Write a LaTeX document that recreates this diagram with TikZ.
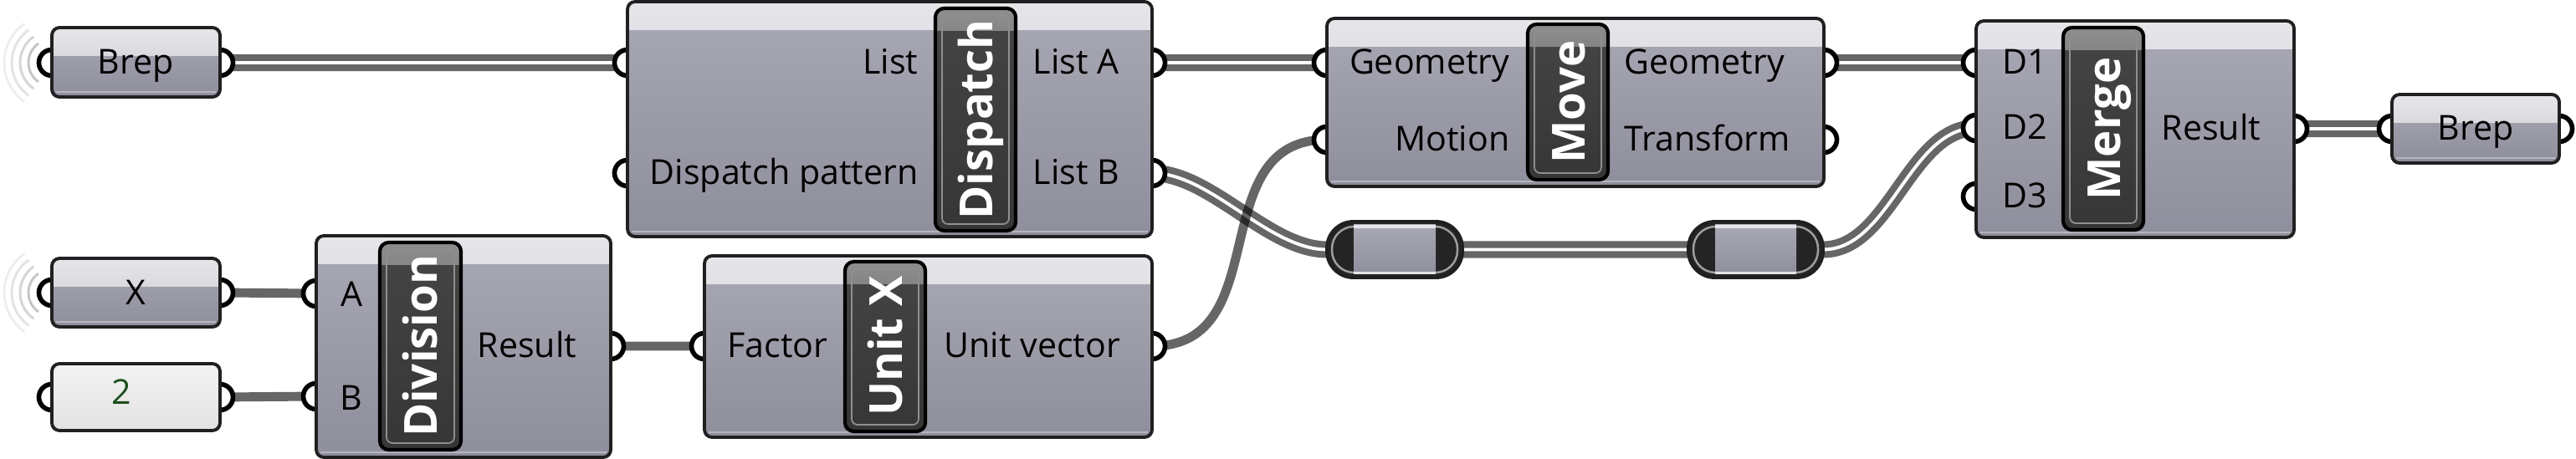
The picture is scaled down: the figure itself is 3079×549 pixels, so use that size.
\documentclass[tikz,border=0pt]{standalone}
\usepackage{fontspec}
\setmainfont{Open Sans}
\usetikzlibrary{fit}
\pgfdeclarelayer{wires}
\pgfdeclarelayer{ports}
\pgfsetlayers{wires,ports,main}
\definecolor{ghline}{HTML}{202020}
\definecolor{bodytop}{HTML}{A9A9B5}
\definecolor{bodybot}{HTML}{8E8E9C}
\definecolor{bandtop}{HTML}{E6E6EA}
\definecolor{bandbot}{HTML}{C6C6CE}
\definecolor{labtop}{HTML}{454545}
\definecolor{labbot}{HTML}{363636}
\definecolor{labhi}{HTML}{8E8E8E}
\definecolor{relaydark}{HTML}{242424}
\definecolor{paneltop}{HTML}{F2F2F2}
\definecolor{panelbot}{HTML}{E2E2E2}
\definecolor{numgreen}{HTML}{1D4F1D}
\tikzset{
  ghbox/.style={draw=ghline, line width=1.1pt, rounded corners=2.6pt, inner sep=0pt, outer sep=0pt,
    top color=bodytop, bottom color=bodybot,
    path picture={\fill[sharp corners, top color=bandtop, bottom color=bandbot]
      (path picture bounding box.north west) rectangle ([yshift=-0.33cm]path picture bounding box.north east);
      \draw[white, opacity=0.35, line width=0.6pt] ([shift={(0.05cm,0.06cm)}]path picture bounding box.south west) -- ([shift={(-0.05cm,0.06cm)}]path picture bounding box.south east);}},
  ghpanel/.style={draw=ghline, line width=1.1pt, rounded corners=2.6pt, inner sep=0pt, outer sep=0pt,
    top color=paneltop, bottom color=panelbot},
  labbox/.style={draw=black, line width=1.2pt, rounded corners=3pt, inner sep=0pt, outer sep=0pt,
    top color=labtop, bottom color=labbot,
    path picture={\fill[sharp corners, top color=labhi, bottom color=labtop]
      (path picture bounding box.north west) rectangle ([yshift=-0.26cm]path picture bounding box.north east);
      \draw[line width=0.5pt, white!40!labtop, rounded corners=2pt]
      ([shift={(0.08cm,-0.08cm)}]path picture bounding box.north west) rectangle ([shift={(-0.08cm,0.08cm)}]path picture bounding box.south east);}},
  relay/.style={draw=ghline, line width=1.1pt, rounded corners=9pt, inner sep=0pt, outer sep=0pt, fill=relaydark,
    path picture={
      \draw[line width=0.7pt, gray!75, rounded corners=7.5pt]
      ([shift={(0.06cm,0.06cm)}]path picture bounding box.south west) rectangle ([shift={(-0.06cm,-0.06cm)}]path picture bounding box.north east);
      \fill[sharp corners, top color=bodytop, bottom color=bodybot]
      ([xshift=0.32cm,yshift=0.04cm]path picture bounding box.south west) rectangle ([xshift=-0.32cm,yshift=-0.04cm]path picture bounding box.north east);
      \fill[sharp corners, bandtop] ([xshift=0.32cm,yshift=-0.04cm]path picture bounding box.north west) rectangle ([xshift=-0.32cm,yshift=-0.08cm]path picture bounding box.north east);
      \fill[sharp corners, white!75!bodybot] ([xshift=0.32cm,yshift=0.04cm]path picture bounding box.south west) rectangle ([xshift=-0.32cm,yshift=0.07cm]path picture bounding box.south east);}},
  port/.style={draw=black, fill=white, line width=1.6pt},
  listwire/.style={draw=black, line width=2.3pt, double=white, double distance=1.1pt},
  itemwire/.style={draw=black, line width=3.1pt},
  wave/.style={line width=0.85pt},
  pl/.style={font=\fontsize{11.7}{14}\selectfont, inner sep=0pt},
  labtxt/.style={font=\bfseries\fontsize{15.5}{18}\selectfont, text=white, inner sep=0pt, rotate=90, anchor=base},
}
\newcommand\ghport[1]{\draw[port] (#1) circle[radius=0.155cm];}
\begin{document}
\begin{tikzpicture}[x=0.01cm, y=-0.01cm]
\useasboundingbox (0,0) rectangle (3079,549);
% ---------- port coordinates
\coordinate (bi-i) at (62,75);   \coordinate (bi-o) at (263,75);
\coordinate (x-i) at (62,350);   \coordinate (x-o) at (263,350);
\coordinate (two-i) at (62,475); \coordinate (two-o) at (263,475);
\coordinate (div-i1) at (378,351); \coordinate (div-i2) at (378,474); \coordinate (div-o) at (730,414);
\coordinate (ux-i) at (842,414); \coordinate (ux-o) at (1377,414);
\coordinate (disp-i1) at (750,75); \coordinate (disp-i2) at (750,207);
\coordinate (disp-o1) at (1377,75); \coordinate (disp-o2) at (1377,207);
\coordinate (move-i1) at (1586,75); \coordinate (move-i2) at (1586,167);
\coordinate (move-o1) at (2180,75); \coordinate (move-o2) at (2180,167);
\coordinate (mg-i1) at (2362,75); \coordinate (mg-i2) at (2362,153); \coordinate (mg-i3) at (2362,235);
\coordinate (mg-o) at (2742,154);
\coordinate (bo-i) at (2859,154); \coordinate (bo-o) at (3059,154);

% ---------- components
\node[ghbox, fit={(62,33)(263,116)}] (brepin) {};
\node[ghbox, fit={(62,309)(263,391)}] (xparam) {};
\node[ghpanel, fit={(62,435)(263,515)}] (twopanel) {};
\node[ghbox, fit={(378,282)(730,547)}] (div) {};
\node[labbox, fit={(454,290)(551,538)}] (divlab) {};
\node[ghbox, fit={(842,306)(1377,523)}] (ux) {};
\node[labbox, fit={(1010,313)(1106,516)}] (uxlab) {};
\node[ghbox, fit={(750,2)(1377,283)}] (disp) {};
\node[labbox, fit={(1118,10)(1214,276)}] (displab) {};
\node[ghbox, fit={(1586,22)(2180,223)}] (move) {};
\node[labbox, fit={(1826,29)(1922,215)}] (movelab) {};
\node[ghbox, fit={(2362,25)(2742,284)}] (merge) {};
\node[labbox, fit={(2466,33)(2562,275)}] (mergelab) {};
\node[ghbox, fit={(2859,113)(3059,195)}] (brepout) {};
\node[relay, fit={(1586,265)(1748,332)}] (relay1) {};
\node[relay, fit={(2018,265)(2179,332)}] (relay2) {};

% ---------- wires
\begin{pgfonlayer}{wires}
  \foreach \r/\c in {28/45,38/32,48/22,57/13}{
    \draw[wave, gray!\c] (bi-i) ++(125:\r) arc[start angle=125, end angle=235, radius=\r];
    \draw[wave, gray!\c] (x-i) ++(125:\r) arc[start angle=125, end angle=235, radius=\r];
  }
  \begin{scope}[transparency group, opacity=0.6]
    \draw[listwire] (bi-o) -- (disp-i1);
    \draw[listwire] (disp-o1) -- (move-i1);
    \draw[listwire] (move-o1) -- (mg-i1);
    \draw[listwire] (disp-o2) .. controls +(70,0) and +(-70,0) .. (relay1.west);
    \draw[listwire] (relay1.east) -- (relay2.west);
    \draw[listwire] (relay2.east) .. controls +(80,0) and +(-80,0) .. (mg-i2);
    \draw[listwire] (mg-o) -- (bo-i);
  \end{scope}
  \begin{scope}[transparency group, opacity=0.6]
    \draw[itemwire] (x-o) -- (div-i1);
    \draw[itemwire] (two-o) -- (div-i2);
    \draw[itemwire] (div-o) -- (ux-i);
    \draw[itemwire] (ux-o) .. controls +(150,0) and +(-150,0) .. (move-i2);
  \end{scope}
\end{pgfonlayer}

% ---------- ports
\begin{pgfonlayer}{ports}
  \foreach \p in {bi-i,bi-o,x-i,x-o,two-i,two-o,div-i1,div-i2,div-o,ux-i,ux-o,
                  disp-i1,disp-i2,disp-o1,disp-o2,move-i1,move-i2,move-o1,move-o2,
                  mg-i1,mg-i2,mg-i3,mg-o,bo-i,bo-o}{\ghport{\p}}
\end{pgfonlayer}

% ---------- texts
\node[pl, anchor=base] (t-brepin) at (162,89) {Brep};
\node[pl, anchor=base] (t-x) at (162,365) {X};
\node[pl, anchor=base, text=numgreen] (t-two) at (145,483) {2};
\node[pl, anchor=base] (t-brepout) at (2959,168) {Brep};

\node[pl, anchor=base east] (t-list) at (1098,89) {List};
\node[pl, anchor=base east] (t-pattern) at (1098,221) {Dispatch pattern};
\node[pl, anchor=base west] (t-lista) at (1234,89) {List A};
\node[pl, anchor=base west] (t-listb) at (1234,221) {List B};
\node[labtxt] (t-disp) at (1186,143) {Dispatch};

\node[pl, anchor=base east] (t-geo1) at (1805,89) {Geometry};
\node[pl, anchor=base east] (t-motion) at (1805,181) {Motion};
\node[pl, anchor=base west] (t-geo2) at (1941,89) {Geometry};
\node[pl, anchor=base west] (t-transform) at (1941,181) {Transform};
\node[labtxt] (t-move) at (1894,122) {Move};

\node[pl, anchor=base west] (t-d1) at (2393,89) {D1};
\node[pl, anchor=base west] (t-d2) at (2393,167) {D2};
\node[pl, anchor=base west] (t-d3) at (2393,249) {D3};
\node[pl, anchor=base west] (t-mres) at (2583,168) {Result};
\node[labtxt] (t-merge) at (2534,154) {Merge};

\node[pl, anchor=base east] (t-a) at (434,367) {A};
\node[pl, anchor=base east] (t-b) at (434,490) {B};
\node[pl, anchor=base west] (t-dres) at (570,428) {Result};
\node[labtxt] (t-div) at (522,414) {Division};

\node[pl, anchor=base east] (t-factor) at (990,428) {Factor};
\node[pl, anchor=base west] (t-unitvec) at (1128,428) {Unit vector};
\node[labtxt] (t-ux) at (1078,414) {Unit X};
\end{tikzpicture}
\end{document}
